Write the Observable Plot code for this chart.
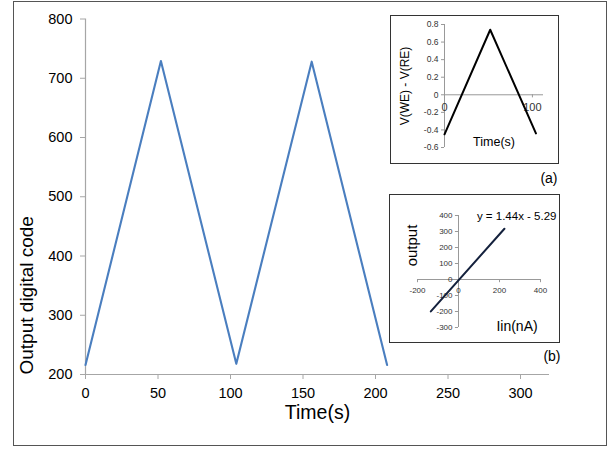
<!DOCTYPE html>
<html>
<head>
<meta charset="utf-8">
<script src="https://cdn.jsdelivr.net/npm/d3@7"></script>
<script src="https://cdn.jsdelivr.net/npm/@observablehq/plot@0.6"></script>
<style>
  html, body { margin: 0; padding: 0; background: #fff; }
  #wrap { position: relative; width: 616px; height: 452px; font-family: "Liberation Sans", Arial, sans-serif; }
  #outer { position: absolute; left: 13px; top: 1px; width: 594px; height: 445px; border: 1px solid #555; box-sizing: border-box; }
  .inset { position: absolute; }
  .box { position: absolute; border: 1.5px solid #333; box-sizing: border-box; }
  svg { overflow: visible; }
</style>
</head>
<body>
<div id="wrap">
  <div id="outer"></div>
  <div id="main" class="inset" style="left:0;top:0"></div>
  <div class="box" style="left:390px;top:15px;width:169px;height:149px"></div>
  <div id="insetA" class="inset" style="left:390px;top:15px"></div>
  <div class="box" style="left:389px;top:194px;width:171px;height:149px"></div>
  <div id="insetB" class="inset" style="left:389px;top:194px"></div>
</div>
<script>
// Main chart: output digital code vs time (triangle wave vertices)
const mainTime = [0, 52, 104, 156, 208];
const mainCode = [216, 729, 218, 728, 216];
const mainXTicks = [0, 50, 100, 150, 200, 250, 300];
const mainYTicks = [200, 300, 400, 500, 600, 700, 800];

// Inset (a): V(WE) - V(RE) vs time
const aTime = [0, 52, 104];
const aVolt = [-0.45, 0.74, -0.44];
const aXTicks = [0, 100];
const aYTicks = [-0.6, -0.4, -0.2, 0, 0.2, 0.4, 0.6, 0.8];

// Inset (b): output vs Iin(nA)
const bIin = [-135, 224];
const bOut = [-199.7, 317.3];
const bXTicks = [-200, 0, 200, 400];
const bYTicks = [-300, -200, -100, 0, 100, 200, 300, 400];

const font = "Liberation Sans, Arial, sans-serif";
const mainData = mainTime.map((t, i) => ({t, v: mainCode[i]}));
const aData = aTime.map((t, i) => ({t, v: aVolt[i]}));
const bData = bIin.map((x, i) => ({x, y: bOut[i]}));

const main = Plot.plot({
  width: 616, height: 452,
  marginLeft: 85, marginRight: 67, marginTop: 18.5, marginBottom: 78,
  style: {fontFamily: font, background: "transparent", overflow: "visible"},
  x: {domain: [0, 320], ticks: mainXTicks},
  y: {domain: [200, 800], ticks: mainYTicks},
  marks: [
    Plot.ruleX([0], {stroke: "#a6a6a6", strokeWidth: 1.2}),
    Plot.ruleY([200], {stroke: "#a6a6a6", strokeWidth: 1.2}),
    Plot.axisX(mainXTicks, {tickSize: 5, tickPadding: 8, stroke: "#a6a6a6", fill: "#000", fontSize: 14.5, label: null}),
    Plot.axisY(mainYTicks, {tickSize: 5, tickPadding: 8, stroke: "#a6a6a6", fill: "#000", fontSize: 14.5, label: null}),
    Plot.line(mainData, {x: "t", y: "v", stroke: "#4a7ebf", strokeWidth: 2.1}),
    Plot.text(["Time(s)"], {frameAnchor: "bottom", dy: 44, fontSize: 19.5, fill: "#000"}),
    Plot.text(["Output digital code"], {frameAnchor: "bottom-left", dx: -53, rotate: -90, textAnchor: "start", fontSize: 19, fill: "#000"})
  ]
});
document.getElementById("main").appendChild(main);

const insetA = Plot.plot({
  width: 168, height: 148,
  marginLeft: 54, marginRight: 15, marginTop: 9, marginBottom: 16,
  style: {fontFamily: font, background: "transparent", overflow: "visible"},
  x: {domain: [0, 112.6], axis: null},
  y: {domain: [-0.6, 0.8]},
  marks: [
    Plot.ruleX([0], {stroke: "#999", strokeWidth: 1}),
    Plot.ruleY([0], {stroke: "#999", strokeWidth: 1}),
    Plot.axisY(aYTicks, {tickSize: 3, tickPadding: 3, stroke: "#999", fill: "#333", fontSize: 8.5, label: null, tickFormat: d => d === 0 ? "0" : d.toFixed(1)}),
    Plot.ruleX(aXTicks, {x: d => d, y1: 0, y2: -0.035, stroke: "#999"}),
    Plot.text(aXTicks, {x: d => d, y: 0, dy: 13, text: d => String(d), fontSize: 11, fill: "#333"}),
    Plot.line(aData, {x: "t", y: "v", stroke: "#000", strokeWidth: 2}),
    Plot.text(["Time(s)"], {frameAnchor: "bottom", dy: -2, fontSize: 12.5, fill: "#000"}),
    Plot.text(["V(WE) - V(RE)"], {frameAnchor: "left", textAnchor: "middle", dx: -39, dy: 0, rotate: -90, fontSize: 12, fill: "#000"}),
    Plot.text(["(a)"], {frameAnchor: "bottom-right", dx: 14, dy: 35, fontSize: 14, fill: "#000"})
  ]
});
document.getElementById("insetA").appendChild(insetA);

const insetB = Plot.plot({
  width: 170, height: 148,
  marginLeft: 28, marginRight: 19, marginTop: 21, marginBottom: 15,
  style: {fontFamily: font, background: "transparent", overflow: "visible"},
  x: {domain: [-200, 400], axis: null},
  y: {domain: [-300, 400], axis: null},
  marks: [
    Plot.ruleX([0], {stroke: "#999", strokeWidth: 1}),
    Plot.ruleY([0], {stroke: "#999", strokeWidth: 1}),
    Plot.ruleY(bYTicks, {y: d => d, x1: 0, x2: -15, stroke: "#999"}),
    Plot.text(bYTicks, {y: d => d, x: 0, dx: -6, textAnchor: "end", text: d => String(d), fontSize: 8, fill: "#333"}),
    Plot.ruleX(bXTicks, {x: d => d, y1: 0, y2: -20, stroke: "#999"}),
    Plot.text(bXTicks, {x: d => d, y: 0, dy: 11, text: d => String(d), fontSize: 8, fill: "#333"}),
    Plot.line(bData, {x: "x", y: "y", stroke: "#14213d", strokeWidth: 2}),
    Plot.text(["y = 1.44x - 5.29"], {frameAnchor: "top-right", textAnchor: "end", dx: 16, dy: -4, fontSize: 11.5, fill: "#000"}),
    Plot.text(["output"], {frameAnchor: "left", textAnchor: "middle", dx: -5, dy: -26, rotate: -90, fontSize: 15, fill: "#000"}),
    Plot.text(["Iin(nA)"], {frameAnchor: "bottom", dx: 38, dy: 3, fontSize: 14, fill: "#000"}),
    Plot.text(["(b)"], {frameAnchor: "bottom-right", dx: 20, dy: 33, fontSize: 14, fill: "#000"})
  ]
});
document.getElementById("insetB").appendChild(insetB);
</script>
</body>
</html>
